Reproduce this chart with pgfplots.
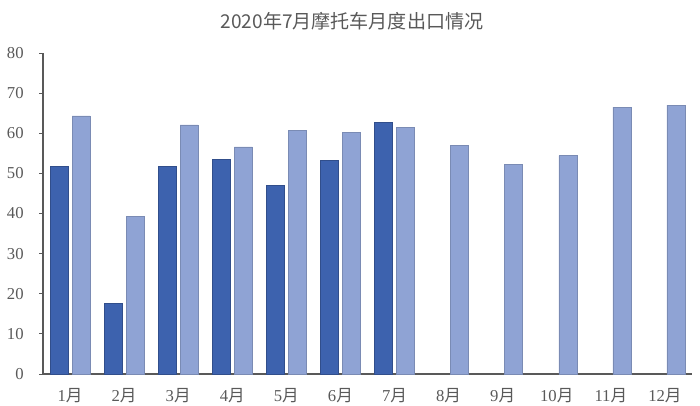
\documentclass[border=0pt]{standalone}
\usepackage{pgfplots}
\pgfplotsset{compat=1.18}
\usepackage{fontspec}
\setmainfont{Liberation Serif}
\newfontfamily\cjk{Noto Sans CJK SC}

\definecolor{dark}{HTML}{3D62AE}
\definecolor{light}{HTML}{8FA3D4}
\definecolor{axisgray}{HTML}{595959}
\definecolor{textgray}{HTML}{595959}

\pgfplotstableread{
x y2020 y2019
0  51.8 64.3
1  17.6 39.2
2  51.8 62.1
3  53.5 56.6
4  47.0 60.8
5  53.3 60.2
6  62.8 61.4
7  nan  56.9
8  nan  52.3
9  nan  54.4
10 nan  66.5
11 nan  67.0
}\monthly

\begin{document}
\begin{tikzpicture}[x=0.75pt,y=0.75pt]
\useasboundingbox (0,0) rectangle (700,406);
\node[text=textgray,font=\cjk\fontsize{14.3}{16}\selectfont] at (352,385) {2020年7月摩托车月度出口情况};
\begin{axis}[
  at={(32.25pt,24pt)}, anchor=south west,
  scale only axis,
  width=486.75pt, height=240.75pt,
  xmin=-0.5, xmax=11.5,
  ymin=0, ymax=80,
  ytick={0,10,...,80},
  xtick={0,...,11},
  xticklabels={1{\cjk 月},2{\cjk 月},3{\cjk 月},4{\cjk 月},5{\cjk 月},6{\cjk 月},7{\cjk 月},8{\cjk 月},9{\cjk 月},10{\cjk 月},11{\cjk 月},12{\cjk 月}},
  extra x ticks={-0.5,0.5,...,11.5},
  extra x tick labels={},
  extra x tick style={major tick length=4pt, tick style={axisgray}},
  major x tick style={draw=none},
  axis x line=bottom, axis y line=left,
  axis line style={axisgray, line width=0.8pt, -},
  tick align=outside,
  major tick length=3pt,
  tick style={axisgray, line width=0.6pt},
  ticklabel style={text=textgray, font=\fontsize{12.5}{14}\selectfont},
  xticklabel style={font=\fontsize{12.5}{14}\selectfont, yshift=-4pt},
  yticklabel style={xshift=-8pt},
  /pgf/number format/assume math mode=true,
  ybar, bar width=13.5pt,
  clip=false,
]
\addplot[fill=dark, draw=dark!80!black, line width=0.4pt, bar shift=-8.25pt] table[x=x,y=y2020] {\monthly};
\addplot[fill=light, draw=light!85!black, line width=0.4pt, bar shift=8.25pt] table[x=x,y=y2019] {\monthly};
\end{axis}
\end{tikzpicture}
\end{document}
